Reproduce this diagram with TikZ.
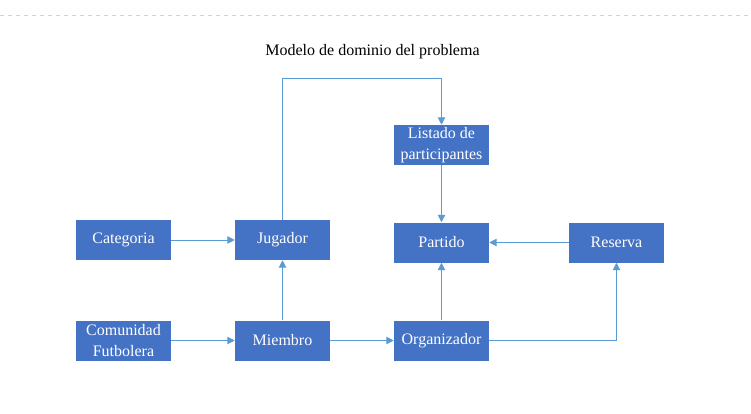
\documentclass[tikz,border=0pt]{standalone}
\usepackage{fontspec}
\setmainfont{Liberation Serif}
\usetikzlibrary{arrows.meta}
\definecolor{boxblue}{HTML}{4472C4}
\definecolor{linkblue}{HTML}{5B9BD5}
\begin{document}
\begin{tikzpicture}[x=0.75pt,y=-0.75pt,
  entity/.style={rectangle, fill=boxblue, draw=none, text=white, minimum width=71.25pt, minimum height=30pt, inner sep=0pt, align=center, font=\fontsize{12}{15.5}\selectfont},
  link/.style={draw=linkblue, line width=0.75pt, -{Triangle[length=5.5pt,width=5.5pt]}}]
\useasboundingbox (0,0) rectangle (751,414);
\fill[white] (0,0) rectangle (751,414);
\draw[gray!35, dashed, line width=0.5pt] (0,15) -- (751,15);
\node[font=\fontsize{12}{14}\selectfont] (title) at (372.5,52) {Modelo de dominio del problema};
\node[entity] (cat) at (123.5,240) {Categoria};
\node[entity] (jug) at (282.5,240) {Jugador};
\node[entity] (com) at (123.5,340.5) {Comunidad\\Futbolera};
\node[entity] (mie) at (282.5,340.5) {Miembro};
\node[entity] (lis) at (441.5,145) {Listado de\\participantes};
\node[entity] (par) at (441.5,242.5) {Partido};
\node[entity] (res) at (616.5,242.5) {Reserva};
\node[entity] (org) at (441.5,340.5) {Organizador};
\coordinate (c1) at (282.5,78);
\coordinate (c2) at (441.5,78);
\coordinate (c3) at (616.5,340.5);
\draw[link] (cat) -- (jug);
\draw[link] (com) -- (mie);
\draw[link] (mie) -- (jug);
\draw[link] (mie) -- (org);
\draw[link] (lis) -- (par);
\draw[link] (org) -- (par);
\draw[link] (res) -- (par);
\draw[link] (jug.north) -- (c1) -- (c2) -- (lis.north);
\draw[link] (org.east) -- (c3) -- (res.south);
\end{tikzpicture}
\end{document}
